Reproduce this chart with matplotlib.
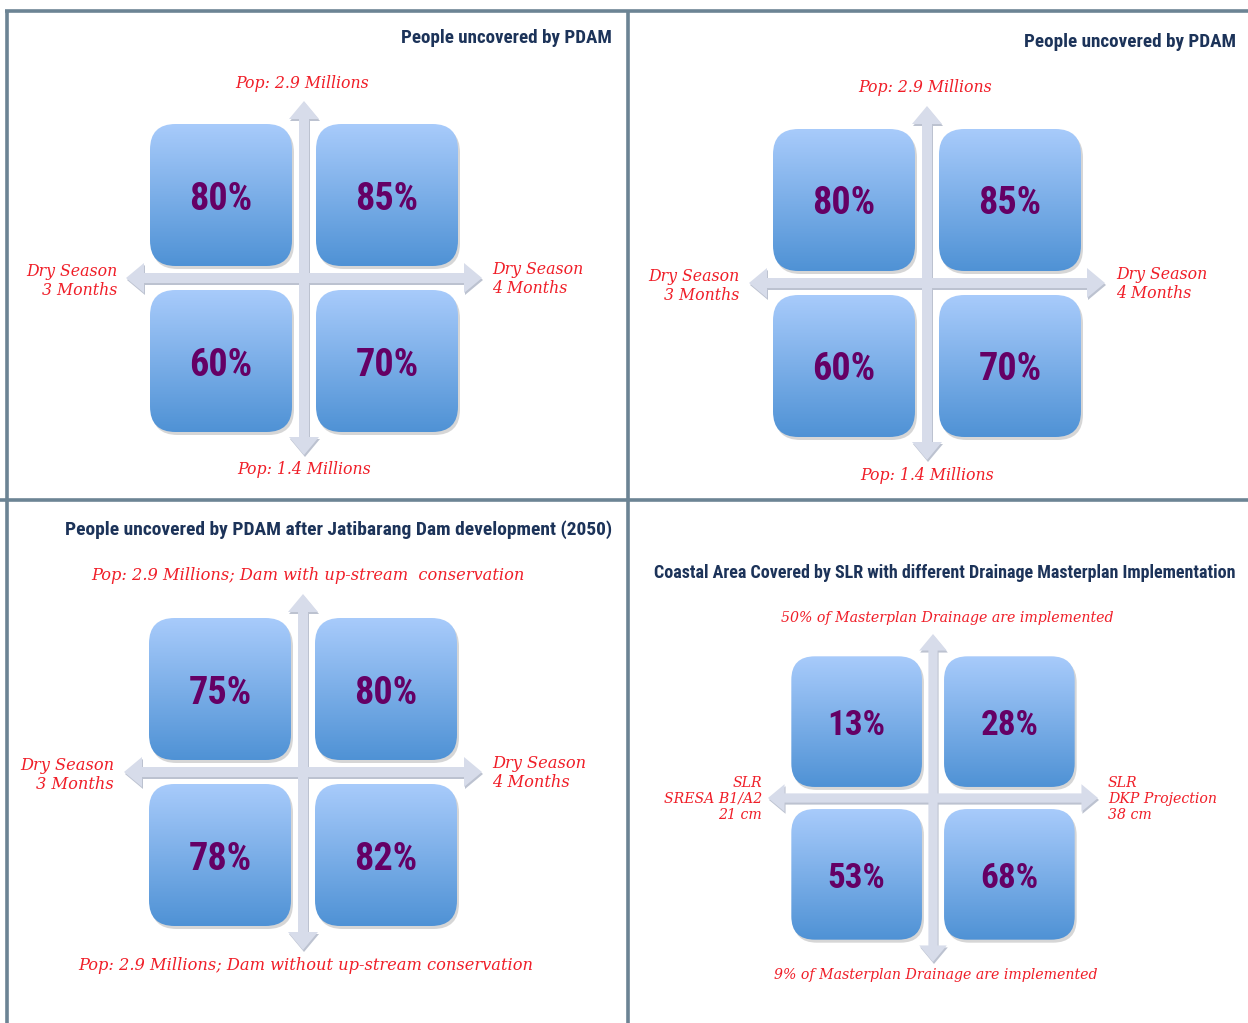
import numpy as np
import matplotlib
matplotlib.use('Agg')
import matplotlib.pyplot as plt
from matplotlib import font_manager
from matplotlib.patches import FancyBboxPatch, FancyArrow
from matplotlib.colors import LinearSegmentedColormap

# ---- data ----
titles = ['People uncovered by PDAM',
          'People uncovered by PDAM',
          'People uncovered by PDAM after Jatibarang Dam development (2050)',
          'Coastal Area Covered by SLR with different Drainage Masterplan Implementation']
# values in order: top-left, top-right, bottom-left, bottom-right
values_1 = ['80%', '85%', '60%', '70%']
values_2 = ['80%', '85%', '60%', '70%']
values_3 = ['75%', '80%', '78%', '82%']
values_4 = ['13%', '28%', '53%', '68%']
top_labels = ['Pop: 2.9 Millions', 'Pop: 2.9 Millions',
              'Pop: 2.9 Millions; Dam with up-stream  conservation',
              '50% of Masterplan Drainage are implemented']
bottom_labels = ['Pop: 1.4 Millions', 'Pop: 1.4 Millions',
                 'Pop: 2.9 Millions; Dam without up-stream conservation',
                 '9% of Masterplan Drainage are implemented']
left_labels = ['Dry Season\n3 Months', 'Dry Season\n3 Months',
               'Dry Season\n3 Months', 'SLR\nSRESA B1/A2\n21 cm']
right_labels = ['Dry Season\n4 Months', 'Dry Season\n4 Months',
                'Dry Season\n4 Months', 'SLR\nDKP Projection\n38 cm']

# pick a narrow font if one is installed
names = set(f.name for f in font_manager.fontManager.ttflist)
condensed = [f for f in font_manager.fontManager.ttflist
             if 'ondensed' in str(f.stretch) or 'arrow' in f.name or 'ondensed' in f.name]
narrow = ['Liberation Sans', 'DejaVu Sans']
stretch = 'normal'
for cand in ['Liberation Sans Narrow', 'Roboto Condensed', 'Open Sans Condensed',
             'Noto Sans Condensed', 'DejaVu Sans Condensed']:
    if cand in names:
        narrow = [cand, 'DejaVu Sans']
        break
else:
    if condensed:
        narrow = [condensed[0].name, 'DejaVu Sans']
        stretch = condensed[0].stretch

W, H = 1248, 1023
fig = plt.figure(figsize=(W / 100, H / 100), dpi=100)
ax = fig.add_axes([0, 0, 1, 1])
ax.set_xlim(0, W)
ax.set_ylim(H, 0)
ax.axis('off')
renderer = fig.canvas.get_renderer()

RED = '#f01e28'
NAVY = '#1c3359'
PURPLE = '#650065'
ARROW = '#d7dcea'
hand = dict(family=['DejaVu Serif'], style='italic', color=RED)

grad_cmap = LinearSegmentedColormap.from_list('box', ['#a8cbfb', '#4f92d5'])
grad = np.linspace(0, 1, 256).reshape(-1, 1)


def fit_text(t, width, max_fs):
    # shrink a text until it has the wanted width in pixels
    w = t.get_window_extent(renderer).width
    t.set_fontsize(min(max_fs, t.get_fontsize() * width / w))


# frame lines
line_kw = dict(color='#6c8494', lw=2.6, solid_capstyle='butt')
ax.plot([5, W], [11, 11], **line_kw)
ax.plot([7, 7], [11, H], **line_kw)
ax.plot([628, 628], [11, H], **line_kw)
ax.plot([0, W], [500, 500], **line_kw)


def draw_box(x0, y0, size, text, s):
    r = size * 0.18
    shadow = FancyBboxPatch((x0 + 2, y0 + 3), size, size,
                            boxstyle='round,pad=0,rounding_size=%f' % r,
                            fc='#9a9a9a', ec='none', alpha=0.4, zorder=2)
    ax.add_patch(shadow)
    box = FancyBboxPatch((x0, y0), size, size,
                         boxstyle='round,pad=0,rounding_size=%f' % r,
                         fc='none', ec='none', zorder=3)
    ax.add_patch(box)
    im = ax.imshow(grad, cmap=grad_cmap, aspect='auto',
                   extent=[x0, x0 + size, y0 + size, y0], zorder=3,
                   interpolation='bilinear')
    im.set_clip_path(box)
    t = ax.text(x0 + size / 2, y0 + size / 2 + 4, text, ha='center', va='center',
                fontsize=31 * s, fontweight='bold', color=PURPLE, family=narrow,
                fontstretch=stretch, zorder=5)
    fit_text(t, 63 * s, 31 * s)


def draw_arrow(x, y, dx, dy, s):
    kw = dict(width=10 * s, head_width=30 * s, head_length=18 * s,
              length_includes_head=True, lw=0)
    ax.add_patch(FancyArrow(x + 1, y + 2, dx, dy, fc='#bcc2d0', zorder=1, **kw))
    ax.add_patch(FancyArrow(x, y, dx, dy, fc=ARROW, zorder=1.5, **kw))


def draw_panel(cx, cy, s, values, top, bottom, left, right, harm, varm,
               title, tx, ty, tw, lab_fs, t_off, b_off, l_x, r_x, l_y, r_y):
    size = 142 * s
    gap = 12 * s
    # arrows from centre
    draw_arrow(cx, cy, 0, -varm, s)
    draw_arrow(cx, cy, 0, varm, s)
    draw_arrow(cx, cy, -harm, 0, s)
    draw_arrow(cx, cy, harm, 0, s)
    pos = [(cx - gap - size, cy - gap - size), (cx + gap, cy - gap - size),
           (cx - gap - size, cy + gap), (cx + gap, cy + gap)]
    for (x0, y0), v in zip(pos, values):
        draw_box(x0, y0, size, v, s)
    t = ax.text(tx, ty, title, ha='right', va='center', fontsize=14,
                fontweight='bold', color=NAVY, family=narrow, fontstretch=stretch)
    fit_text(t, tw, 14)
    ax.text(cx + t_off[0], cy - t_off[1], top, ha='center', va='center',
            fontsize=lab_fs, **hand)
    ax.text(cx + b_off[0], cy + b_off[1], bottom, ha='center', va='center',
            fontsize=lab_fs, **hand)
    ax.text(l_x, l_y, left, ha='right', va='center', fontsize=lab_fs,
            linespacing=1.15, multialignment='right', **hand)
    ax.text(r_x, r_y, right, ha='left', va='center', fontsize=lab_fs,
            linespacing=1.15, multialignment='left', **hand)


draw_panel(304, 278, 1.0, values_1, top_labels[0], bottom_labels[0],
           left_labels[0], right_labels[0], 178, 177,
           titles[0], 612, 38, 211, 11.3, (-2, 194), (0, 192), 117, 492, 281, 279)
draw_panel(927, 283, 1.0, values_2, top_labels[1], bottom_labels[1],
           left_labels[1], right_labels[1], 178, 177,
           titles[1], 1236, 42, 212, 11.3, (-2, 196), (0, 192), 739, 1116, 286, 284)
draw_panel(303, 772, 1.0, values_3, top_labels[2], bottom_labels[2],
           left_labels[2], right_labels[2], 179, 178,
           titles[2], 612, 530, 555, 11.7, (5, 196), (3, 194), 114, 492, 775, 773)
draw_panel(933, 798, 0.92, values_4, top_labels[3], bottom_labels[3],
           left_labels[3], right_labels[3], 165, 164,
           titles[3], 1235, 573, 587, 10.2, (14, 180), (3, 177), 762, 1108, 799, 799)

fig.savefig('out.png', dpi=100)
